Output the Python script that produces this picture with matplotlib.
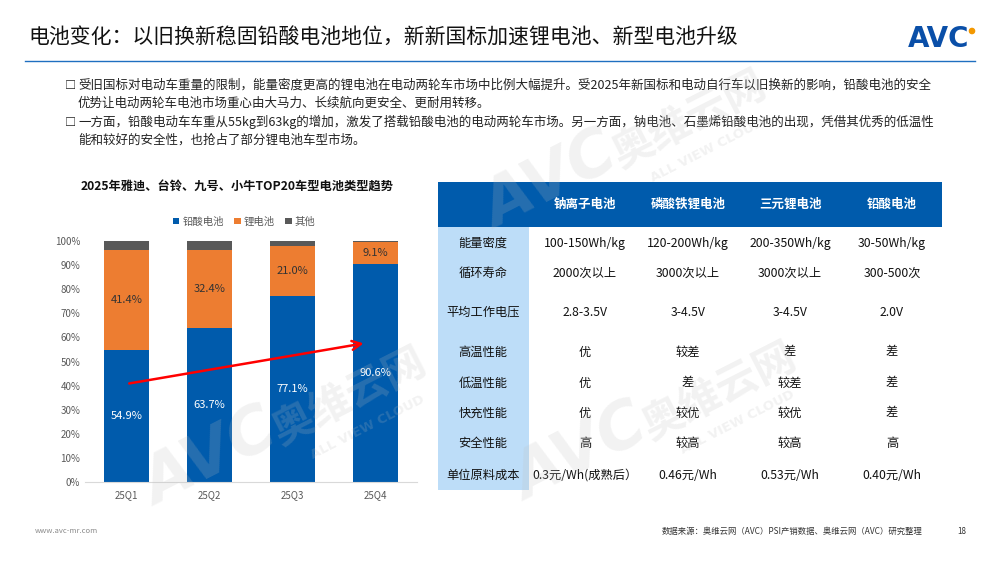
import numpy as np
import matplotlib
matplotlib.use("Agg")
from matplotlib import pyplot as plt
from matplotlib.patches import Rectangle, Circle

plt.rcParams['font.family'] = ['Noto Sans CJK SC', 'DejaVu Sans']

# chart data
quarters = ['25Q1', '25Q2', '25Q3', '25Q4']
lead_acid = [54.9, 63.7, 77.1, 90.6]
lithium = [41.4, 32.4, 21.0, 9.1]
other = [3.7, 3.9, 1.9, 0.3]
series_names = ['铅酸电池', '锂电池', '其他']

# table data
table_header = ['钠离子电池', '磷酸铁锂电池', '三元锂电池', '铅酸电池']
row_labels = ['能量密度', '循环寿命', '平均工作电压', '高温性能', '低温性能', '快充性能', '安全性能', '单位原料成本']
sodium = ['100-150Wh/kg', '2000次以上', '2.8-3.5V', '优', '优', '优', '高', '0.3元/Wh(成熟后）']
lfp = ['120-200Wh/kg', '3000次以上', '3-4.5V', '较差', '差', '较优', '较高', '0.46元/Wh']
ternary = ['200-350Wh/kg', '3000次以上', '3-4.5V', '差', '较差', '较优', '较高', '0.53元/Wh']
lead = ['30-50Wh/kg', '300-500次', '2.0V', '差', '差', '差', '高', '0.40元/Wh']

title = '电池变化：以旧换新稳固铅酸电池地位，新新国标加速锂电池、新型电池升级'
bullets = [
    ('□', '受旧国标对电动车重量的限制，能量密度更高的锂电池在电动两轮车市场中比例大幅提升。受2025年新国标和电动自行车以旧换新的影响，铅酸电池的安全'),
    ('', '优势让电动两轮车电池市场重心由大马力、长续航向更安全、更耐用转移。'),
    ('□', '一方面，铅酸电动车车重从55kg到63kg的增加，激发了搭载铅酸电池的电动两轮车市场。另一方面，钠电池、石墨烯铅酸电池的出现，凭借其优秀的低温性'),
    ('', '能和较好的安全性，也抢占了部分锂电池车型市场。'),
]
chart_title = '2025年雅迪、台铃、九号、小牛TOP20车型电池类型趋势'
source = '数据来源：奥维云网（AVC）PSI产销数据、奥维云网（AVC）研究整理'

BLUE = '#005BAC'
ORANGE = '#ED7D31'
GRAY = '#595959'
LIGHT = '#BDDDF8'

fig = plt.figure(figsize=(10, 5.61), dpi=100)

# background layer in pixel coordinates
bg = fig.add_axes([0, 0, 1, 1])
bg.set_xlim(0, 1000)
bg.set_ylim(561, 0)
bg.axis('off')

bg.text(28, 38, title, fontsize=15, va='center', ha='left', color='#111111')
bg.plot([25, 975], [61, 61], color='#1F6FC0', lw=1)

# logo
bg.text(908, 39, 'AVC', fontsize=20, fontweight='bold', color='#0A4FA8',
        family='DejaVu Sans', va='center', ha='left')
bg.add_patch(Circle((972, 31), 2.6, color='#F39800'))

for i, (mark, line) in enumerate(bullets):
    y = [85, 103, 122, 140][i]
    if mark:
        bg.text(65, y, mark, fontsize=8, fontweight='bold', va='center', ha='left', color='#222222')
    bg.text(78, y, line, fontsize=9.0, va='center', ha='left', color='#222222')

bg.text(237, 187, chart_title, fontsize=8.8, fontweight='bold', ha='center', va='center', color='#111111')

# table
col_x = [483, 585, 688, 790, 892]
row_y = [243, 273, 312, 352, 383, 413, 443, 475]
bg.add_patch(Rectangle((438, 182), 504, 45, color=BLUE, lw=0))
bg.add_patch(Rectangle((438, 227), 91, 263, color=LIGHT, lw=0))
for j, h in enumerate(table_header):
    bg.text(col_x[j + 1], 204, h, fontsize=9, fontweight='bold', color='white', ha='center', va='center')
columns = [row_labels, sodium, lfp, ternary, lead]
for j, col in enumerate(columns):
    for i, val in enumerate(col):
        bg.text(col_x[j], row_y[i], val, fontsize=8.8, color='#111111', ha='center', va='center')

# footer
bg.text(35, 531, 'www.avc-mr.com', fontsize=5.5, color='#8C8C8C', ha='left', va='center')
bg.text(662, 531, source, fontsize=6.0, color='#333333', ha='left', va='center')
bg.text(962, 531, '18', fontsize=5.8, color='#333333', ha='center', va='center')

# stacked bar chart
ax = fig.add_axes([0.085, 1 - 482 / 561, 0.332, (482 - 241) / 561])
ax.patch.set_alpha(0)
x = np.arange(len(quarters))
b1 = ax.bar(x, lead_acid, width=0.55, color=BLUE, label=series_names[0])
b2 = ax.bar(x, lithium, width=0.55, bottom=lead_acid, color=ORANGE, label=series_names[1])
ax.bar(x, other, width=0.55, bottom=np.add(lead_acid, lithium), color=GRAY, label=series_names[2])
ax.bar_label(b1, fmt='%.1f%%', label_type='center', color='white', fontsize=8)
ax.bar_label(b2, fmt='%.1f%%', label_type='center', color='#333333', fontsize=8)

ax.set_xlim(-0.5, 3.5)
ax.set_ylim(0, 100)
ax.set_xticks(x, quarters)
ax.set_yticks(np.arange(0, 101, 10), [f'{v}%' for v in range(0, 101, 10)])
ax.tick_params(length=0, labelsize=7, colors='#595959')
ax.tick_params(axis='x', pad=6)
for s in ['top', 'right', 'left']:
    ax.spines[s].set_visible(False)
ax.spines['bottom'].set_color('#D9D9D9')

ax.annotate('', xy=(2.89, 57.7), xytext=(0, 40.7),
            arrowprops=dict(arrowstyle='->', color='#FF0000', lw=1.8, mutation_scale=16))

ax.legend(loc='lower center', bbox_to_anchor=(0.48, 1.02), ncol=3, frameon=False,
          fontsize=7.5, handlelength=0.6, handleheight=0.6, columnspacing=1.0,
          handletextpad=0.3, labelcolor='#595959')

# watermarks
top = fig.add_axes([0, 0, 1, 1])
top.set_xlim(0, 1000)
top.set_ylim(561, 0)
top.axis('off')
wm = dict(color='#BFBFBF', alpha=0.2, rotation=27, ha='center', va='center', fontweight='bold')
for cx, cy in [(350, 397), (690, 120), (720, 392)]:
    top.text(cx - 140, cy + 62, 'AVC', fontsize=46, style='italic', family='DejaVu Sans', **wm)
    top.text(cx, cy, '奥维云网', fontsize=30, **wm)
    top.text(cx + 18, cy + 30, 'ALL VIEW CLOUD', fontsize=9.5, family='DejaVu Sans', **wm)

fig.savefig('out.png', dpi=100)
